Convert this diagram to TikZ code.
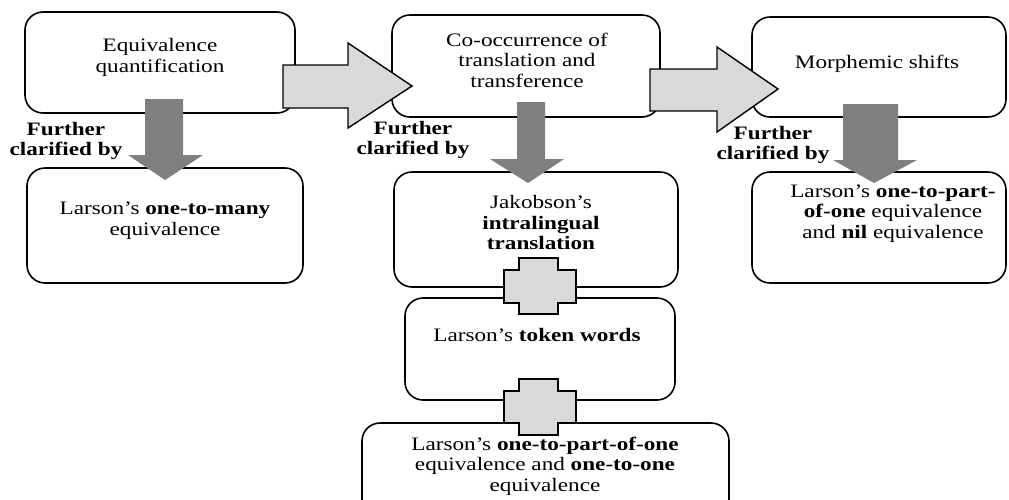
\documentclass[tikz,border=0pt]{standalone}
\usepackage{fontspec}
\setmainfont{Liberation Serif}[FakeStretch=1.22]
\usepackage{tikz}
\usetikzlibrary{positioning,calc}
\definecolor{Outline}{HTML}{000000}
\definecolor{ArrowLight}{HTML}{D9D9D9}
\definecolor{ArrowDark}{HTML}{7F7F7F}

\begin{document}
\begin{tikzpicture}[
	x=1pt,y=-1pt,
	panel/.style={draw=Outline,line width=1.6pt,rounded corners=18pt,fill=white,inner sep=0pt},
	boxtext/.style={align=center,inner sep=0pt,font=\fontsize{19}{20.5}\selectfont},
	notetext/.style={align=center,inner sep=0pt,font=\fontsize{19}{20.5}\selectfont\bfseries},
	sidearrow/.style={draw=Outline,line width=1.4pt,fill=ArrowLight,line join=miter},
	downarrow/.style={fill=ArrowDark},
	plussign/.style={draw=Outline,line width=1.4pt,fill=ArrowLight}
	]
	
	\clip (0,0) rectangle (1009,499);
	
	% ---------------------------------------------------------
	% TOP ROW
	% ---------------------------------------------------------
	
	\node[panel,minimum width=270,minimum height=101] (quant) at (160,62.5) {};
	\node[panel,minimum width=268,minimum height=102] (cooc) at (526,66) {};
	\node[panel,minimum width=254,minimum height=100] (morph) at (879,67) {};
	
	\node[boxtext] (quanttext) at ($(quant.center)+(0,-5)$) {Equivalence\\quantification};
	\node[boxtext] (cooctext) at ($(cooc.center)+(1,-6)$) {Co-occurrence of\\translation and\\transference};
	\node[boxtext] (morphtext) at ($(morph.center)+(-2,-3)$) {Morphemic shifts};
	
	% ---------------------------------------------------------
	% SECOND ROW
	% ---------------------------------------------------------
	
	\node[panel,minimum width=276,minimum height=115] (many) at (165,225.5) {};
	\node[panel,minimum width=284,minimum height=115] (jakob) at (536,229.5) {};
	\node[panel,minimum width=254,minimum height=111] (nil) at (879,227.5) {};
	
	\node[boxtext] (manytext) at ($(many.center)+(0,-5)$) {Larson's \textbf{one-to-many}\\equivalence};
	\node[boxtext] (jakobtext) at ($(jakob.center)+(5,-7)$) {Jakobson's\\\textbf{intralingual}\\\textbf{translation}};
	\node[boxtext] (niltext) at ($(nil.center)+(14,-14)$) {Larson's \textbf{one-to-part-}\\\textbf{of-one} equivalence\\and \textbf{nil} equivalence};
	
	% ---------------------------------------------------------
	% MIDDLE COLUMN
	% ---------------------------------------------------------
	
	\node[panel,minimum width=270,minimum height=102] (token) at (540,349) {};
	\node[panel,minimum width=367,minimum height=107] (partone) at (545.5,476.5) {};
	
	\node[boxtext] (tokentext) at ($(token.center)+(-3,-14)$) {Larson's \textbf{token words}};
	\node[boxtext] (partonetext) at (545,466) {Larson's \textbf{one-to-part-of-one}\\equivalence and \textbf{one-to-one}\\equivalence};
	
	% ---------------------------------------------------------
	% SIDE ARROWS
	% ---------------------------------------------------------
	
	\coordinate (fwdone) at (283,65);
	\coordinate (fwdtwo) at (650,69);
	
	\draw[sidearrow] (fwdone) -- ++(65,0) -- ++(0,-22) -- ++(64,43) -- ++(-64,42) -- ++(0,-20) -- ++(-65,0) -- cycle;
	\draw[sidearrow] (fwdtwo) -- ++(67,0) -- ++(0,-22) -- ++(61,42) -- ++(-61,43) -- ++(0,-21) -- ++(-67,0) -- cycle;
	
	% ---------------------------------------------------------
	% DOWN ARROWS
	% ---------------------------------------------------------
	
	\coordinate (downone) at (145,99);
	\coordinate (downtwo) at (517,102);
	\coordinate (downthree) at (843,104);
	
	\fill[downarrow] (downone) -- ++(38,0) -- ++(0,56) -- ++(20,0) -- ++(-38,25) -- ++(-37,-25) -- ++(17,0) -- cycle;
	\fill[downarrow] (downtwo) -- ++(28,0) -- ++(0,57) -- ++(19,0) -- ++(-36,24) -- ++(-38,-24) -- ++(27,0) -- cycle;
	\fill[downarrow] (downthree) -- ++(55,0) -- ++(0,56) -- ++(19,0) -- ++(-43,23) -- ++(-41,-23) -- ++(10,0) -- cycle;
	
	\node[notetext] (noteone) at (66,141) {Further\\clarified by};
	\node[notetext] (notetwo) at (413,140) {Further\\clarified by};
	\node[notetext] (notethree) at (773,145) {Further\\clarified by};
	
	% ---------------------------------------------------------
	% PLUS SIGNS
	% ---------------------------------------------------------
	
	\coordinate (plusone) at (519,258);
	\coordinate (plustwo) at (519,379);
	
	\draw[plussign] (plusone) -- ++(39,0) -- ++(0,12) -- ++(18,0) -- ++(0,33) -- ++(-18,0) -- ++(0,11) -- ++(-39,0) -- ++(0,-11) -- ++(-15,0) -- ++(0,-33) -- ++(15,0) -- cycle;
	\draw[plussign] (plustwo) -- ++(39,0) -- ++(0,12) -- ++(18,0) -- ++(0,32) -- ++(-18,0) -- ++(0,12) -- ++(-39,0) -- ++(0,-12) -- ++(-15,0) -- ++(0,-32) -- ++(15,0) -- cycle;
	
\end{tikzpicture}
\end{document}
